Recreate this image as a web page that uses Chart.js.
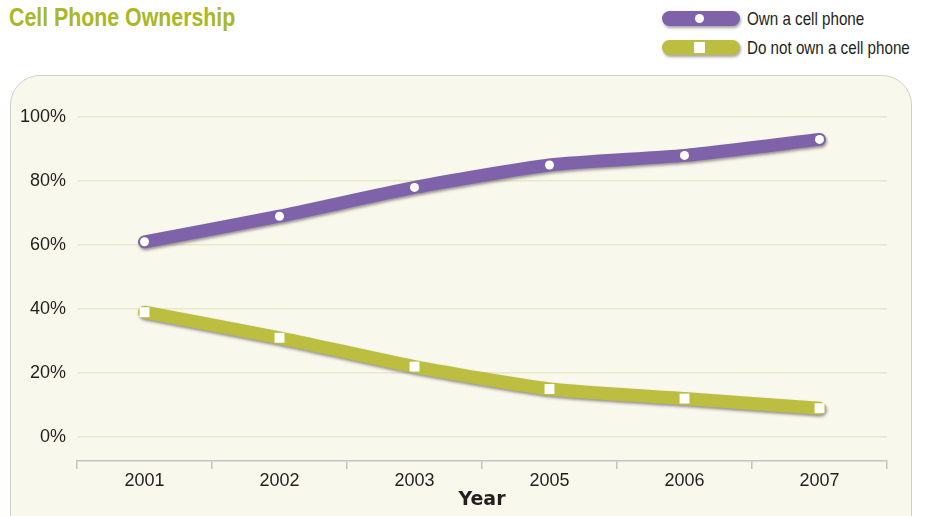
<!DOCTYPE html>
<html>
<head>
<meta charset="utf-8">
<script src="https://cdn.jsdelivr.net/npm/chart.js@4.4.1/dist/chart.umd.min.js"></script>
<style>
  body { margin: 0; background: #fff; width: 930px; height: 516px; overflow: hidden; position: relative;
         font-family: 'Liberation Sans', Arial, sans-serif; color: #231f20; }
  #title { position: absolute; left: 9px; top: 2px; font-size: 26px; font-weight: bold; color: #a9b826;
           white-space: nowrap; transform: scaleX(0.82); transform-origin: 0 0; }
  #panel { position: absolute; left: 10px; top: 75px; width: 900px; height: 480px; background: #f8f9ec;
           border: 1.5px solid #cfcfc8; border-radius: 30px; }
  .leg { position: absolute; left: 662px; height: 15px; width: 78px; border-radius: 8px;
         box-shadow: 1px 2px 3px rgba(60,50,60,0.45); }
  .leg i { position: absolute; left: 33px; top: 3px; width: 9px; height: 9px; background: #fff; }
  .legtxt { position: absolute; left: 747px; font-size: 18.5px; line-height: 20px; white-space: nowrap;
            transform: scaleX(0.82); transform-origin: 0 0; }
  canvas { position: absolute; left: 0; top: 0; }
</style>
</head>
<body>
<div id="title">Cell Phone Ownership</div>
<div class="leg" style="top:11px; background:#7f63aa;"><i style="border-radius:50%;"></i></div>
<div class="legtxt" style="top:9px;">Own a cell phone</div>
<div class="leg" style="top:40px; background:#bbbe3e;"><i style="left:32px; top:2px; width:11px; height:11px;"></i></div>
<div class="legtxt" style="top:38px;">Do not own a cell phone</div>
<div id="panel"></div>
<canvas id="chart" width="930" height="516"></canvas>
<script>
const years = ['2001', '2002', '2003', '2005', '2006', '2007'];
const own = [61, 69, 78, 85, 88, 93];
const notOwn = [39, 31, 22, 15, 12, 9];
const yTicks = [0, 20, 40, 60, 80, 100];

const purple = '#7f63aa';
const olive = '#bbbe3e';
const font = "'Liberation Sans', Arial, sans-serif";

// soft drop shadow under the thick lines only
const shadowPlugin = {
  id: 'shadow',
  beforeDatasetDraw(chart, args) {
    const ctx = chart.ctx;
    ctx.save();
    if (args.meta.controller.getDataset().shadow) {
      ctx.shadowColor = 'rgba(60,45,60,0.5)';
      ctx.shadowBlur = 3;
      ctx.shadowOffsetX = 1;
      ctx.shadowOffsetY = 2;
    }
  },
  afterDatasetDraw(chart) {
    chart.ctx.restore();
  }
};

function lineSet(data, color, order) {
  return { data: data, borderColor: color, borderWidth: 13, borderCapStyle: 'round', borderJoinStyle: 'round',
           tension: 0.2, pointRadius: 0, shadow: true, order: order, clip: false };
}
function markerSet(data, style, r, order) {
  return { data: data, showLine: false, pointStyle: style, pointRadius: r, pointHoverRadius: r,
           pointBackgroundColor: '#fff', pointBorderWidth: 0, order: order, clip: false };
}

new Chart(document.getElementById('chart'), {
  type: 'line',
  data: {
    labels: years,
    datasets: [
      lineSet(own, purple, 3),
      lineSet(notOwn, olive, 4),
      markerSet(own, 'circle', 4.5, 1),
      markerSet(notOwn, 'rect', 7, 2)
    ]
  },
  plugins: [shadowPlugin],
  options: {
    responsive: false,
    animation: false,
    events: [],
    layout: { padding: { left: 0, right: 43, top: 117, bottom: 0 } },
    plugins: { legend: { display: false }, tooltip: { enabled: false } },
    scales: {
      x: {
        offset: true,
        grid: { offset: true, drawOnChartArea: false, drawTicks: true, tickLength: 8, color: '#c4c4c4', lineWidth: 1.5 },
        border: { display: true, color: '#c4c4c4', width: 1.5 },
        ticks: { color: '#231f20', font: { family: font, size: 18 }, padding: 1 },
        title: { display: true, text: 'Year', color: '#231f20',
                 font: { family: 'DejaVu Sans', size: 19, weight: 'bold' }, padding: { top: 0, bottom: 5 } },
        afterFit(s) { s.height = 55; }
      },
      y: {
        min: -7.5,
        max: 100,
        afterBuildTicks(s) { s.ticks = yTicks.map(v => ({ value: v })); },
        grid: { drawTicks: false, color: '#e6eac6', lineWidth: 1.5 },
        border: { display: false },
        ticks: { color: '#231f20', font: { family: font, size: 18 }, padding: 11,
                 callback: v => v + '%' },
        afterFit(s) { s.width = 77; }
      }
    }
  }
});
</script>
</body>
</html>
